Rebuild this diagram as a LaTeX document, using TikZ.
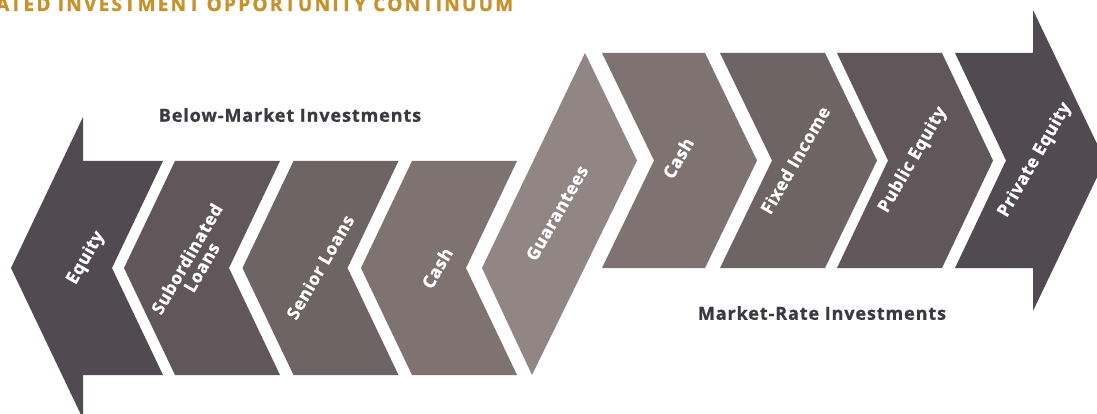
\documentclass[tikz,border=0pt]{standalone}
\usepackage{fontspec}
\setmainfont{Open Sans}
\newfontfamily\labfont{Open Sans}[LetterSpace=3,FakeBold=0.8]
\newfontfamily\headfont{Open Sans}[LetterSpace=5,FakeBold=0.8]
\newfontfamily\titlefont{Open Sans}[LetterSpace=12,FakeBold=1.4]
\definecolor{cA}{HTML}{524A51}
\definecolor{cB}{HTML}{61575A}
\definecolor{cC}{HTML}{6E6365}
\definecolor{cD}{HTML}{7F7372}
\definecolor{cE}{HTML}{928685}
\definecolor{gold}{HTML}{C9912A}
\definecolor{ink}{HTML}{3B3A40}
\begin{document}
\begin{tikzpicture}[x=1pt,y=-1pt,
  lab/.style={text=white,font=\labfont\bfseries\fontsize{17.5}{17}\selectfont,rotate=60,align=center,inner sep=0pt},
  grouplab/.style={text=ink,font=\headfont\bfseries\fontsize{18}{20}\selectfont,inner sep=0pt}]
\useasboundingbox (0,0) rectangle (1097,414);
\clip (0,0) rectangle (1097,414);
\fill[white] (0,0) rectangle (1097,414);
% title
\node[anchor=base west,text=gold,font=\titlefont\bfseries\fontsize{19}{21}\selectfont,inner sep=0pt] (title) at (-4,11) {ATED INVESTMENT OPPORTUNITY CONTINUUM};
% left group (below-market)
\fill[cA] (11,268) -- (83,117) -- (83,161) -- (163,161) -- (112,268) -- (163,375) -- (83,375) -- (83,419) -- cycle;
\fill[cB] (175,161) -- (280,161) -- (229,268) -- (280,375) -- (175,375) -- (124,268) -- cycle;
\fill[cC] (293.5,161) -- (398.5,161) -- (347.5,268) -- (398.5,375) -- (293.5,375) -- (242.5,268) -- cycle;
\fill[cD] (412,161) -- (517,161) -- (466,268) -- (517,375) -- (412,375) -- (361,268) -- cycle;
% guarantees
\fill[cE] (482,268) -- (585,53) -- (637,160.5) -- (532,375) -- cycle;
% right group (market-rate)
\fill[cD] (602,53) -- (705,53) -- (757,160.5) -- (705,268) -- (602,268) -- (654,160.5) -- cycle;
\fill[cC] (720,53) -- (825,53) -- (877,160.5) -- (825,268) -- (720,268) -- (772,160.5) -- cycle;
\fill[cB] (837,53) -- (942,53) -- (993,160.5) -- (942,268) -- (837,268) -- (888,160.5) -- cycle;
\fill[cA] (955,53) -- (1033,53) -- (1033,10) -- (1105,160.5) -- (1033,311) -- (1033,268) -- (955,268) -- (1006,160.5) -- cycle;
% labels
\node[lab] (equity) at (86,258) {Equity};
\node[lab] (subl) at (194,263) {Subordinated\\Loans};
\node[lab] (senior) at (320,267) {Senior Loans};
\node[lab] (cashl) at (437,268) {Cash};
\node[lab] (guar) at (557,213) {Guarantees};
\node[lab] (cashr) at (678,158) {Cash};
\node[lab] (fixed) at (795,160) {Fixed Income};
\node[lab] (pub) at (913,160) {Public Equity};
\node[lab] (priv) at (1035,160) {Private Equity};
\node[grouplab] (below) at (290,115) {Below-Market Investments};
\node[grouplab] (market) at (822,313) {Market-Rate Investments};
\end{tikzpicture}
\end{document}
